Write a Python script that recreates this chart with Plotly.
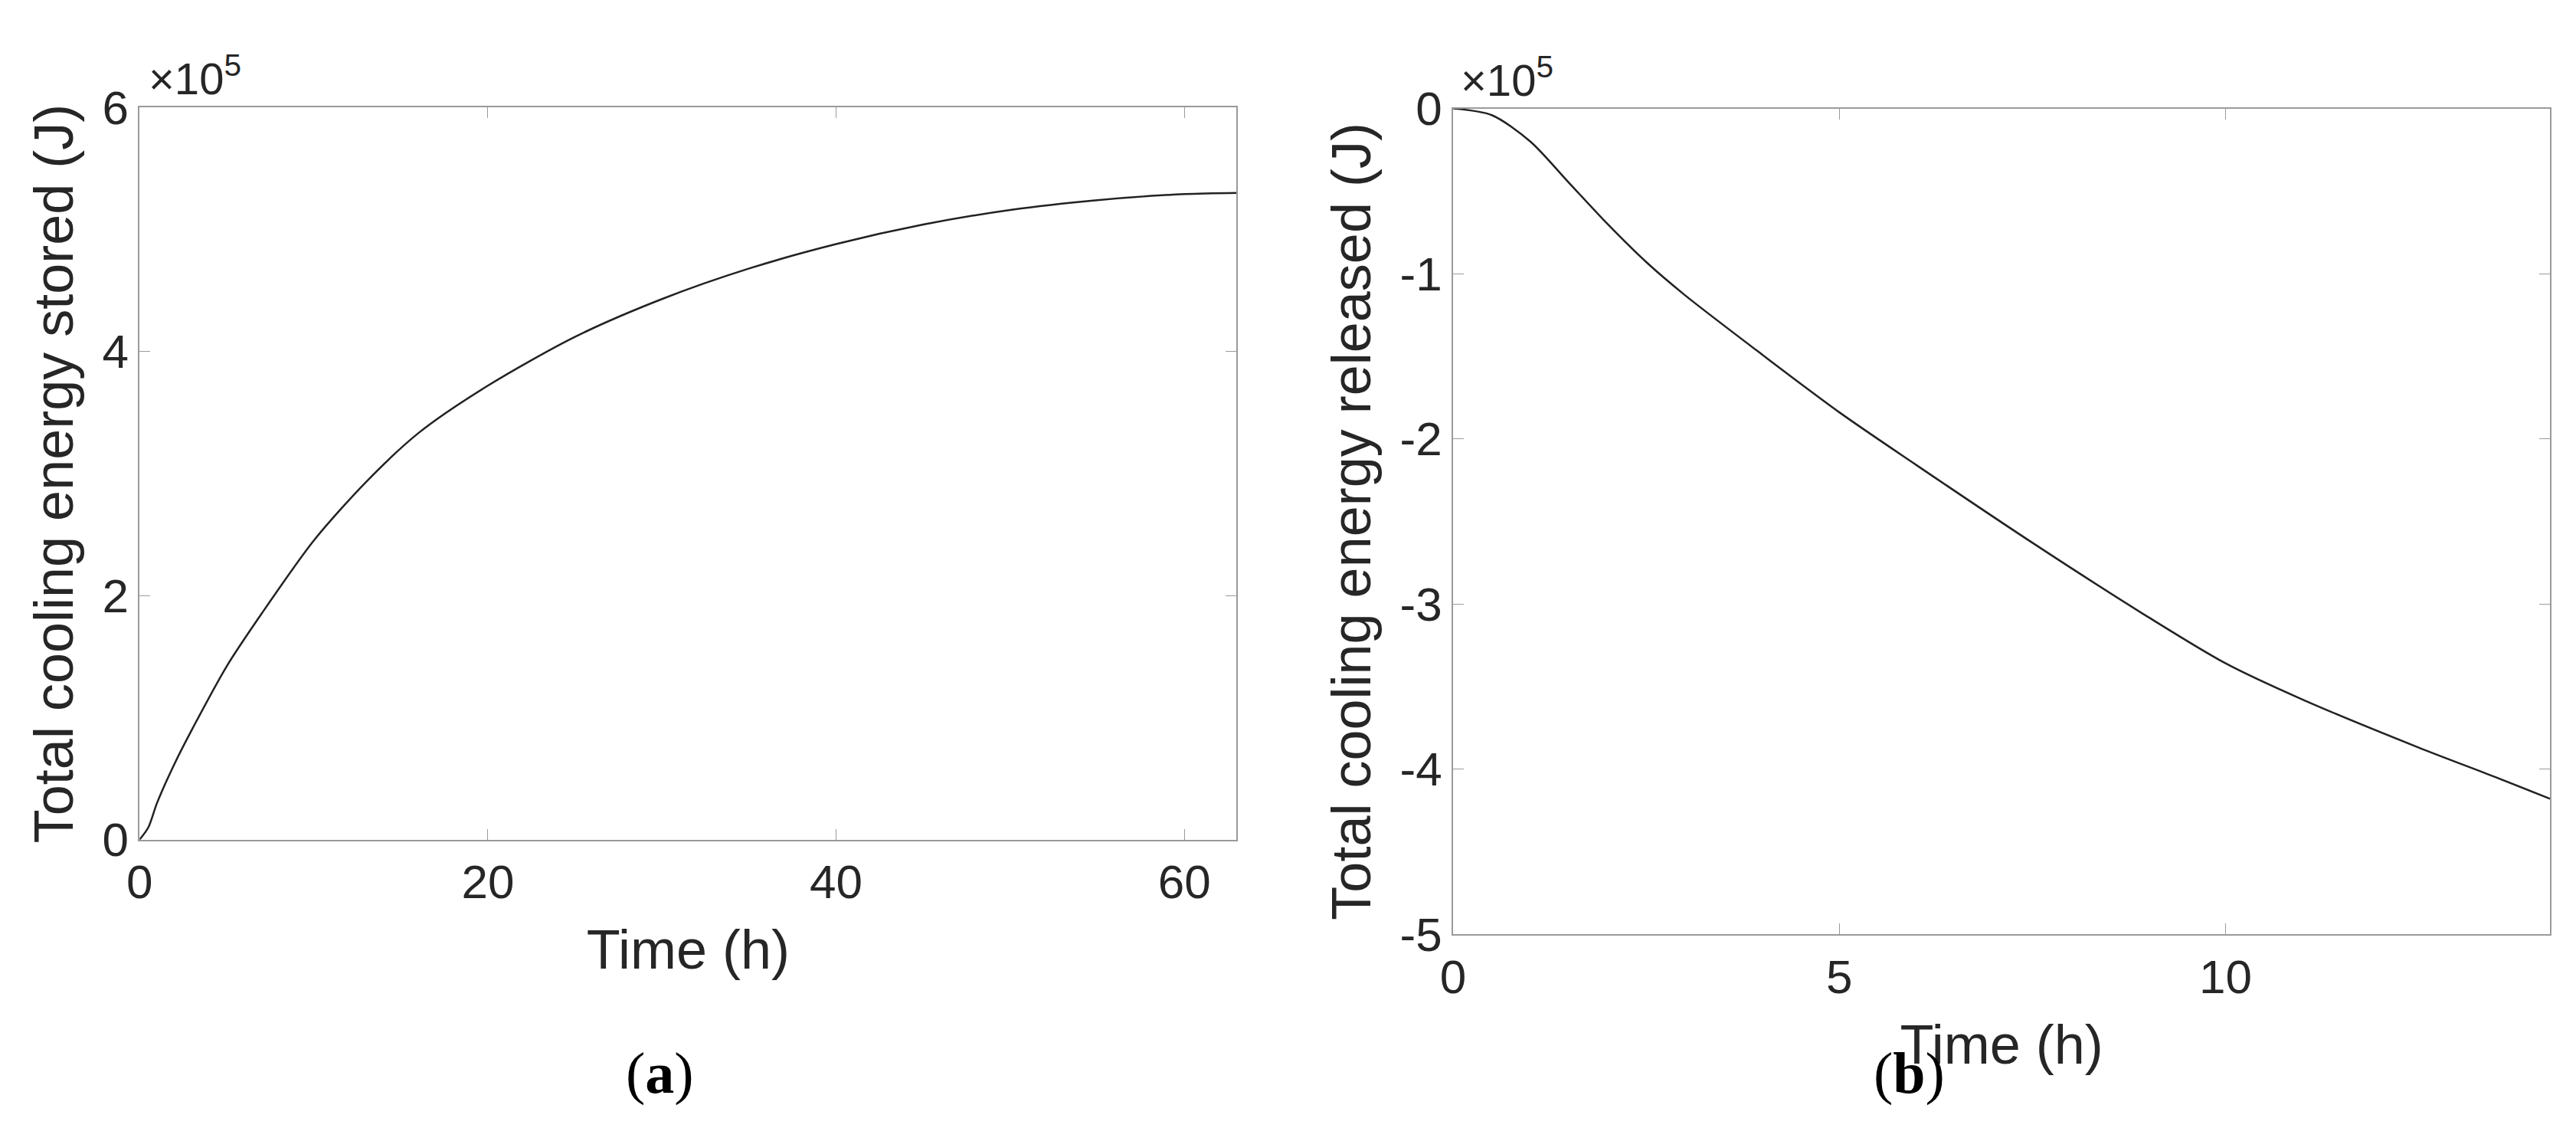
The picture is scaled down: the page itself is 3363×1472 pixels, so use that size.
import plotly.graph_objects as go

# (a) stored energy, x1e5 J
t_a = [0, 0.5, 1, 2, 3, 5, 7, 10, 13, 16, 20, 25, 30, 35, 40, 45, 50, 55, 60, 63]
e_a = [0, 0.1, 0.3, 0.62, 0.9, 1.42, 1.85, 2.45, 2.93, 3.33, 3.72, 4.12, 4.43, 4.68, 4.88, 5.04, 5.16, 5.24, 5.29, 5.3]
# (b) released energy, x1e5 J
t_b = [0, 0.5, 1, 1.5, 2, 2.5, 3, 4, 5, 6, 7.5, 9, 10, 11, 12.5, 13.5, 14.2]
e_b = [0, -0.04, -0.2, -0.45, -0.7, -0.93, -1.13, -1.49, -1.84, -2.16, -2.63, -3.08, -3.36, -3.58, -3.87, -4.05, -4.18]
ticks_a = [0, 2, 4, 6]
ticks_b = [0, -1, -2, -3, -4, -5]

fig = go.Figure()
fig.add_trace(go.Scatter(x=t_a, y=e_a, mode="lines", line=dict(color="#222", width=2.5, shape="spline", smoothing=0.8), xaxis="x", yaxis="y"))
fig.add_trace(go.Scatter(x=t_b, y=e_b, mode="lines", line=dict(color="#222", width=2.5, shape="spline", smoothing=0.8), xaxis="x2", yaxis="y2"))

font = dict(family="Liberation Sans, Arial", size=62, color="#262626")
ax = dict(showgrid=False, zeroline=False, ticks="inside", ticklen=14, mirror="ticks", showline=True,
          linecolor="#9a9a9a", linewidth=2, tickfont=font, tickcolor="#9a9a9a")
tf = dict(family="Liberation Sans, Arial", size=72, color="#262626")
fig.update_layout(
    width=3363, height=1472, plot_bgcolor="white", paper_bgcolor="white", showlegend=False,
    margin=dict(l=0, r=0, t=0, b=0),
    xaxis=dict(ax, domain=[0.047, 0.475], range=[0, 63], tickvals=[0, 20, 40, 60],
               title=dict(text="Time (h)", font=tf, standoff=30), anchor="y"),
    yaxis=dict(ax, domain=[0.249, 0.93], range=[0, 6], tickvals=ticks_a,
               title=dict(text="Total cooling energy stored (J)", font=tf, standoff=14), anchor="x"),
    xaxis2=dict(ax, domain=[0.5595, 0.9875], range=[0, 14.2], tickvals=[0, 5, 10],
                title=dict(text="Time (h)", font=tf, standoff=30), anchor="y2"),
    yaxis2=dict(ax, domain=[0.161, 0.929], range=[-5, 0], tickvals=ticks_b,
                ticktext=["0", "-1", "-2", "-3", "-4", "-5"],
                title=dict(text="Total cooling energy released (J)", font=tf, standoff=14), anchor="x2"),
)
for x, y in [(0.05, 0.932), (0.562, 0.931)]:
    fig.add_annotation(x=x, y=y, xref="paper", yref="paper", text="×10<sup>5</sup>", showarrow=False,
                       xanchor="left", yanchor="bottom", font=dict(family="Liberation Sans, Arial", size=58, color="#262626"))
for x, lbl in [(0.236, "a"), (0.752, "b")]:
    fig.add_annotation(x=x, y=0.0, xref="paper", yref="paper", text="(<b>%s</b>)" % lbl, showarrow=False,
                       yanchor="bottom", font=dict(family="Liberation Serif, Times New Roman", size=76, color="black"))
fig.write_html("out.html")
